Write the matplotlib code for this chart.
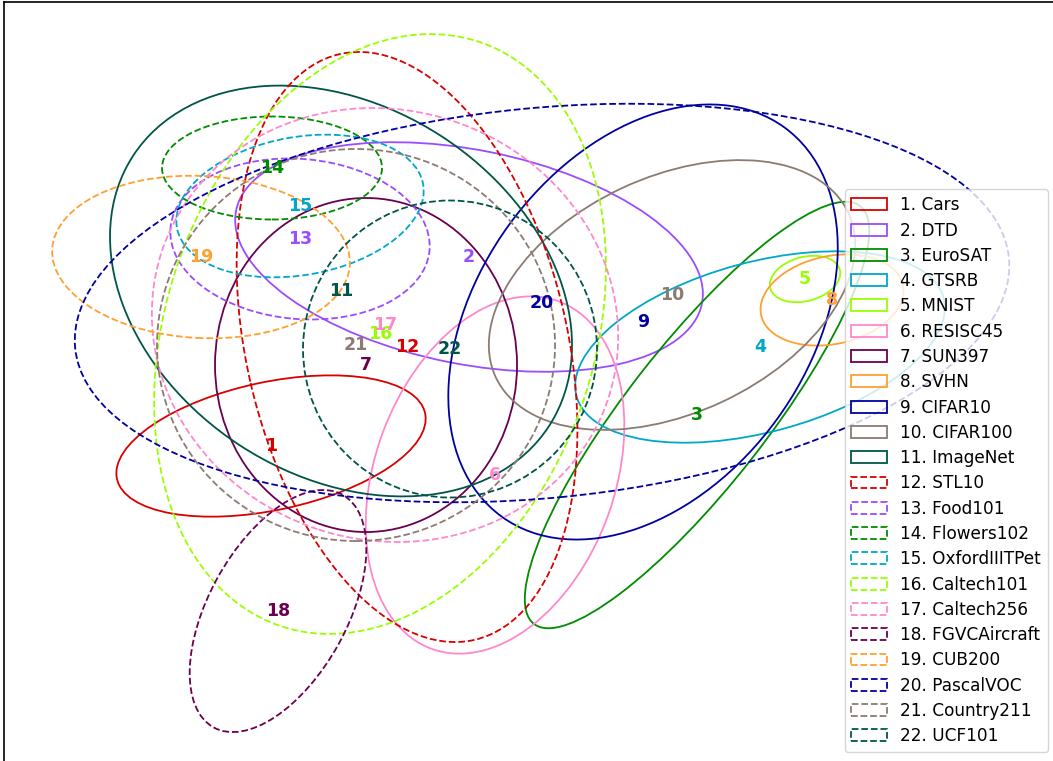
import matplotlib
matplotlib.use("Agg")
import matplotlib.pyplot as plt
from matplotlib.patches import Ellipse, Patch

# dataset names (legend order)
names = ["Cars", "DTD", "EuroSAT", "GTSRB", "MNIST", "RESISC45", "SUN397", "SVHN",
         "CIFAR10", "CIFAR100", "ImageNet", "STL10", "Food101", "Flowers102",
         "OxfordIIITPet", "Caltech101", "Caltech256", "FGVCAircraft", "CUB200",
         "PascalVOC", "Country211", "UCF101"]

# ellipse centres, sizes and rotation
cx = [271, 469, 697, 760, 805, 495, 366, 832, 643, 672, 341,
      407, 300, 272, 300, 380, 385, 278, 201, 542, 356, 450]
cy = [315, 504, 346, 414, 482, 286, 396, 461, 439, 466, 470,
      414, 522, 593, 555, 427, 436, 150, 504, 458, 416, 412]
widths = [315, 475, 530, 380, 72, 370, 302, 145, 481, 389, 496,
          601, 260, 220, 250, 617, 470, 266, 298, 938, 398, 294]
heights = [128, 214, 140, 170, 44, 240, 334, 88, 331, 236, 369,
           321, 160, 103, 138, 428, 430, 138, 162, 390, 392, 297]
angles = [12, -11.3, 52, 15, 15, 70, 0, 12, 54, 25, -33,
          -77, -5, 0, 10, 71, -18, 61, -3, 5.5, 0, 0]

# 11 colours, reused for the second group (dashed)
palette = ["#d90000", "#9a4cff", "#008c00", "#00a8c8", "#99ff00", "#ff88cc",
           "#6a0050", "#ffa030", "#0000a0", "#8c7b73", "#005548"]

fig = plt.figure(figsize=(10.53, 7.61), dpi=100)
# axes run past the right and bottom edges of the picture
ax = fig.add_axes([4 / 1053, -0.05, 1.02 - 4 / 1053, 1.0474])
ax.set_xlim(4, 1074)
ax.set_ylim(-38, 759)
ax.set_xticks([])
ax.set_yticks([])
for s in ax.spines.values():
    s.set_linewidth(1.2)

handles = []
for i, name in enumerate(names):
    col = palette[i % 11]
    ls = "-" if i < 11 else "--"
    e = Ellipse((cx[i], cy[i]), widths[i], heights[i], angle=angles[i],
                fill=False, edgecolor=col, linestyle=ls, linewidth=1.3)
    ax.add_patch(e)
    ax.text(cx[i], cy[i], str(i + 1), color=col, fontsize=12.5,
            fontweight="bold", ha="center", va="center")
    handles.append(Patch(facecolor="none", edgecolor=col, linestyle=ls,
                         linewidth=1.3, label=f"{i + 1}. {name}"))

fig.legend(handles=handles, loc="lower right", fontsize=12.2,
           bbox_to_anchor=(1048 / 1053, 9 / 761), borderaxespad=0,
           handlelength=2.1, labelspacing=0.43)

fig.savefig("out.png", dpi=100)
